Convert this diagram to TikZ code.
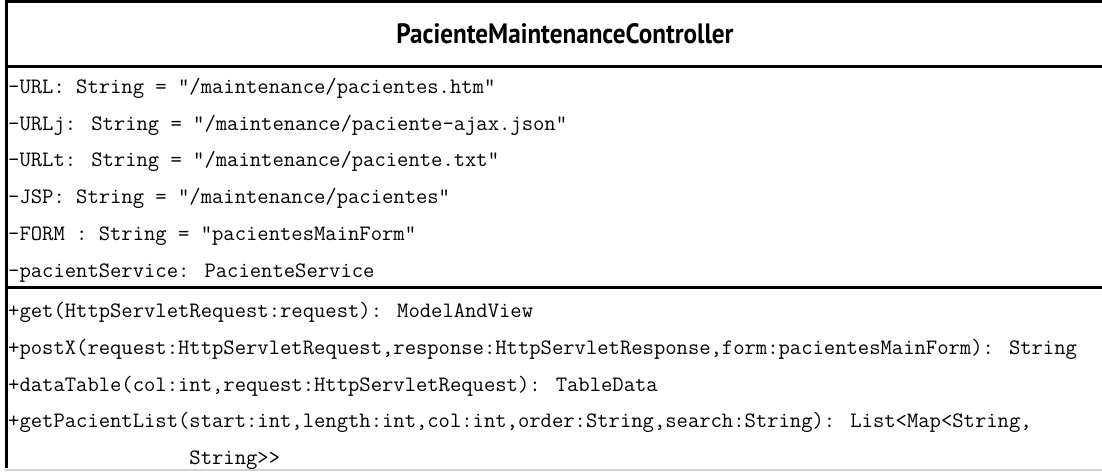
\documentclass[tikz,border=0pt]{standalone}
\usepackage{fontspec}
\usepackage{graphicx}
\usetikzlibrary{positioning}
\newfontfamily\titlefont{PT Sans}

\tikzset{
	member/.style={
		anchor=base west,
		inner sep=0pt,
		text height=16pt,
		text depth=4.4pt,
		font=\fontsize{22}{26}\selectfont\ttfamily},
	nextmember/.style={member, below=16pt of #1.south west, anchor=north west},
	rule/.style={line width=3pt, black}
}

\begin{document}
\begin{tikzpicture}[x=1pt, y=-1pt]
	\useasboundingbox (0,0) rectangle (1102,471);
	% class name
	\node[inner sep=0pt] (classname) at (565,34)
		{\resizebox{337pt}{20pt}{\titlefont\bfseries PacienteMaintenanceController}};

	% attributes
	\node[member] (url) at (8,93.3) {-URL: String = "/maintenance/pacientes.htm"};
	\node[nextmember=url] (urlj) {-URLj: String = "/maintenance/paciente-ajax.json"};
	\node[nextmember=urlj] (urlt) {-URLt: String = "/maintenance/paciente.txt"};
	\node[nextmember=urlt] (jsp) {-JSP: String = "/maintenance/pacientes"};
	\node[nextmember=jsp] (form) {-FORM : String = "pacientesMainForm"};
	\node[nextmember=form] (service) {-pacientService: PacienteService};

	% operations
	\node[member] (get) at (8,317.5) {+get(HttpServletRequest:request): ModelAndView};
	\node[nextmember=get] (postx) {+postX(request:HttpServletRequest,response:HttpServletResponse,form:pacientesMainForm): String};
	\node[nextmember=postx] (datatable) {+dataTable(col:int,request:HttpServletRequest): TableData};
	\node[nextmember=datatable] (pacientlist) {+getPacientList(start:int,length:int,col:int,order:String,search:String): List<Map<String,};
	\node[nextmember=pacientlist] (pacientlist2) {\phantom{+getPacientList(}String>>};

	% box and compartments
	\draw[rule] (6.5,1.5) -- (1102,1.5);
	\draw[rule] (6.5,0) -- (6.5,468);
	\draw[rule] (6.5,66) -- (1102,66);
	\draw[rule] (6.5,287.5) -- (1102,287.5);
	\draw[black!18, line width=2pt] (5,470) -- (1102,470);
\end{tikzpicture}
\end{document}
